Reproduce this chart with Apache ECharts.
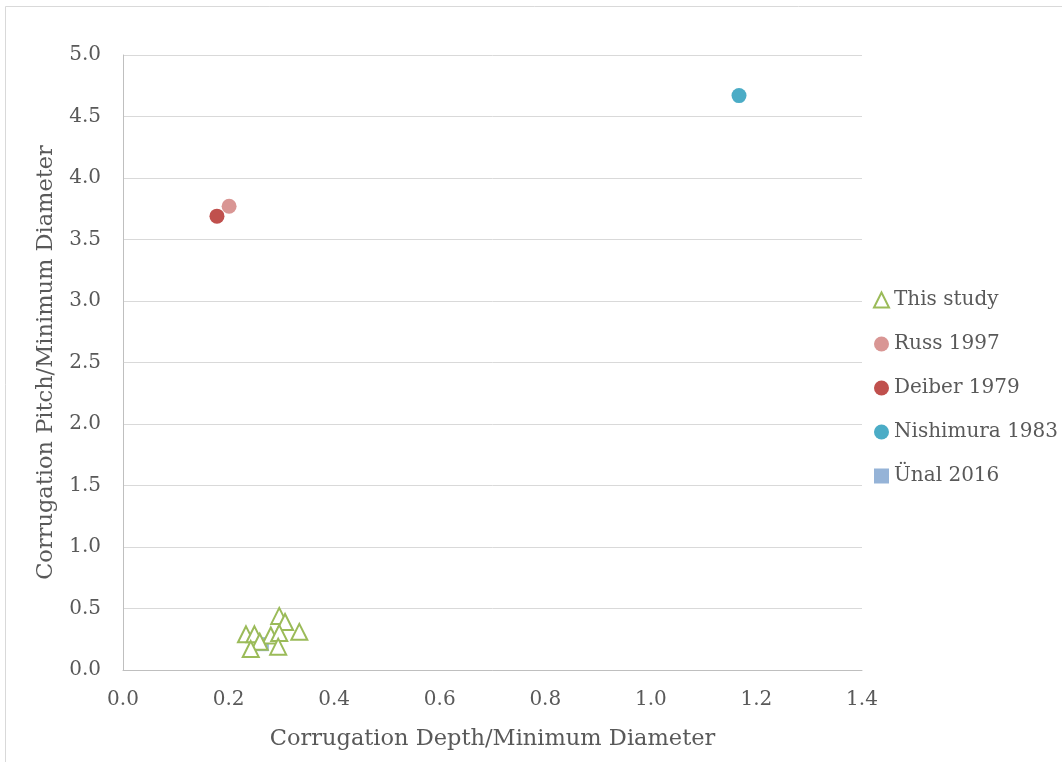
<!DOCTYPE html>
<html>
<head>
<meta charset="utf-8">
<script src="https://cdn.jsdelivr.net/npm/echarts@6/dist/echarts.min.js"></script>
<style>
  html, body { margin: 0; padding: 0; background: #fff; }
  #chart { width: 1062px; height: 762px; }
</style>
</head>
<body>
<div id="chart"></div>
<script>
// Ratio data: [depth / min diameter, pitch / min diameter]
const thisStudy = [
  [0.296, 0.44], [0.307, 0.39], [0.334, 0.31], [0.233, 0.29], [0.249, 0.29],
  [0.280, 0.28], [0.296, 0.30], [0.259, 0.23], [0.242, 0.17], [0.294, 0.19]
];
const russ1997 = [[0.201, 3.77]];
const deiber1979 = [[0.178, 3.69]];
const nishimura1983 = [[1.167, 4.67]];
const unal2016 = [[0.263, 0.21]];

const seriesNames = ['This study', 'Russ 1997', 'Deiber 1979', 'Nishimura 1983', 'Ünal 2016'];
const xTitle = 'Corrugation Depth/Minimum Diameter';
const yTitle = 'Corrugation Pitch/Minimum Diameter';

const FONT = 'DejaVu Serif';
const TEXT = '#595959';

const chart = echarts.init(document.getElementById('chart'), null, { renderer: 'canvas' });

chart.setOption({
  backgroundColor: '#ffffff',
  animation: false,
  graphic: [{
    type: 'rect',
    silent: true,
    z: -10,
    shape: { x: 5.5, y: 6.5, width: 1100, height: 800 },
    style: { fill: 'none', stroke: '#d9d9d9', lineWidth: 1 }
  }],
  grid: { left: 123, right: 200, top: 55, bottom: 92, containLabel: false },
  legend: {
    orient: 'vertical',
    left: 868,
    top: 285,
    itemGap: 24,
    itemWidth: 15,
    itemHeight: 15,
    textStyle: { fontFamily: FONT, fontSize: 20, color: TEXT },
    data: [
      { name: seriesNames[0], icon: 'triangle' },
      { name: seriesNames[1], icon: 'circle' },
      { name: seriesNames[2], icon: 'circle' },
      { name: seriesNames[3], icon: 'circle' },
      { name: seriesNames[4], icon: 'rect' }
    ]
  },
  xAxis: {
    type: 'value',
    min: 0, max: 1.4, interval: 0.2,
    name: xTitle,
    nameLocation: 'middle',
    nameGap: 58,
    nameTextStyle: { fontFamily: FONT, fontSize: 22.5, color: TEXT },
    axisLine: { show: true, lineStyle: { color: '#bfbfbf', width: 1 } },
    axisTick: { show: false },
    splitLine: { show: false },
    axisLabel: {
      fontFamily: FONT, fontSize: 20, color: TEXT, margin: 20,
      formatter: v => v.toFixed(1)
    }
  },
  yAxis: {
    type: 'value',
    min: 0, max: 5, interval: 0.5,
    name: yTitle,
    nameLocation: 'middle',
    nameGap: 65,
    nameTextStyle: { fontFamily: FONT, fontSize: 22.5, color: TEXT },
    axisLine: { show: true, lineStyle: { color: '#bfbfbf', width: 1 } },
    axisTick: { show: false },
    splitLine: { show: true, lineStyle: { color: '#d9d9d9', width: 1 } },
    axisLabel: {
      fontFamily: FONT, fontSize: 20, color: TEXT, margin: 22,
      formatter: v => v.toFixed(1)
    }
  },
  series: [
    {
      name: seriesNames[0], type: 'scatter', data: thisStudy,
      symbol: 'triangle', symbolSize: 16, z: 3,
      itemStyle: { color: '#ffffff', opacity: 1, borderColor: '#9bbb59', borderWidth: 2 }
    },
    {
      name: seriesNames[1], type: 'scatter', data: russ1997,
      symbol: 'circle', symbolSize: 15,
      itemStyle: { color: '#d99694', opacity: 1 }
    },
    {
      name: seriesNames[2], type: 'scatter', data: deiber1979,
      symbol: 'circle', symbolSize: 15,
      itemStyle: { color: '#c0504d', opacity: 1 }
    },
    {
      name: seriesNames[3], type: 'scatter', data: nishimura1983,
      symbol: 'circle', symbolSize: 15,
      itemStyle: { color: '#4bacc6', opacity: 1 }
    },
    {
      name: seriesNames[4], type: 'scatter', data: unal2016,
      symbol: 'rect', symbolSize: 14, z: 2,
      itemStyle: { color: '#95b3d7', opacity: 1 }
    }
  ]
});
</script>
</body>
</html>
